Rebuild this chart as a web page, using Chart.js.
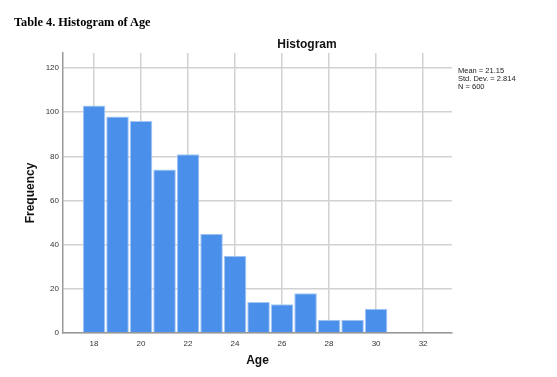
<!DOCTYPE html>
<html lang="en">
<head>
<meta charset="UTF-8">
<title>Histogram of Age</title>
<script src="https://cdn.jsdelivr.net/npm/chart.js@4.4.4/dist/chart.umd.js"></script>
<style>
  body { margin: 0; background: #fff; }
  #wrap { position: relative; width: 557px; height: 377px; }
  #heading {
    position: absolute; left: 14px; top: 15px; margin: 0;
    font: bold 12.3px "Liberation Serif", "Times New Roman", serif; color: #000;
  }
</style>
</head>
<body>
<div id="wrap">
  <h1 id="heading">Table 4. Histogram of Age</h1>
  <canvas id="myChart" width="557" height="377"></canvas>
</div>
<script>
// 年龄分组及频数
const ages = [18, 19, 20, 21, 22, 23, 24, 25, 26, 27, 28, 29, 30];
const freqs = [103, 98, 96, 74, 81, 45, 35, 14, 13, 18, 6, 6, 11];
const xTicks = [18, 20, 22, 24, 26, 28, 30, 32];
const yTicks = [0, 20, 40, 60, 80, 100, 120];
const statsLines = ['Mean = 21.15', 'Std. Dev. = 2.814', 'N = 600'];

const sans = '"Liberation Sans", Arial, sans-serif';

// 标题、坐标轴标题、统计信息
const labelsPlugin = {
  id: 'labels',
  afterDraw(chart) {
    const c = chart.ctx;
    const area = chart.chartArea;
    c.save();
    c.fillStyle = '#111';
    c.textAlign = 'center';
    c.textBaseline = 'middle';
    c.font = 'bold 12px ' + sans;
    c.fillText('Histogram', 307, 45);
    c.fillText('Age', (area.left + area.right) / 2, 361);
    c.save();
    c.translate(31, 193);
    c.rotate(-Math.PI / 2);
    c.fillText('Frequency', 0, 0);
    c.restore();
    c.textAlign = 'left';
    c.font = '7.5px ' + sans;
    c.fillStyle = '#222';
    statsLines.forEach((s, i) => c.fillText(s, 458, 71 + i * 8));
    c.restore();
  }
};

const ctx = document.getElementById('myChart').getContext('2d');
const myChart = new Chart(ctx, {
  type: 'bar',
  data: {
    datasets: [{
      data: ages.map((a, i) => ({ x: a, y: freqs[i] })),
      backgroundColor: '#4a8fea',
      borderColor: '#a6c7f4',
      borderWidth: 1,
      barPercentage: 0.96,
      categoryPercentage: 1
    }]
  },
  options: {
    responsive: false,
    animation: false,
    layout: { padding: { top: 53, right: 105, left: 0, bottom: 0 } },
    plugins: { legend: { display: false }, tooltip: { enabled: false } },
    scales: {
      x: {
        type: 'linear',
        offset: false,
        min: 16.68,
        max: 33.23,
        afterBuildTicks: s => { s.ticks = xTicks.map(v => ({ value: v })); },
        afterFit: s => { s.height = 44; },
        grid: { offset: false, color: '#d2d2d2', lineWidth: 1.5, drawTicks: false },
        border: { color: '#999', width: 1.5 },
        ticks: { color: '#333', font: { size: 8, family: sans }, padding: 6 }
      },
      y: {
        min: 0,
        max: 126.8,
        afterBuildTicks: s => { s.ticks = yTicks.map(v => ({ value: v })); },
        afterFit: s => { s.width = 63; },
        grid: { color: '#d2d2d2', lineWidth: 1.5, drawTicks: false },
        border: { color: '#999', width: 1.5 },
        ticks: { color: '#333', font: { size: 8, family: sans }, padding: 4 }
      }
    }
  },
  plugins: [labelsPlugin]
});
</script>
</body>
</html>
